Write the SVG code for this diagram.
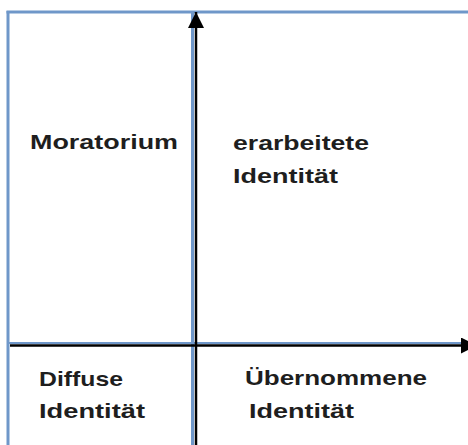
<svg xmlns="http://www.w3.org/2000/svg" width="468" height="445" viewBox="0 0 468 445">
<style>
.frame{stroke:#6f97c9;stroke-width:3;fill:none}
.axis{stroke:#000;stroke-width:2.5;fill:none}
.lbl{font-family:"Liberation Sans",Arial,sans-serif;font-weight:bold;font-size:21px;fill:#1e1e1e}
</style>
<defs>
<marker id="ah" markerUnits="userSpaceOnUse" markerWidth="16" markerHeight="16" refX="16" refY="8" orient="auto">
<path d="M0,0 L16,8 L0,16 z" fill="#000"/>
</marker>
</defs>
<rect width="468" height="445" fill="#fff"/>
<g id="frame">
<line class="frame" x1="6.5" y1="12" x2="468" y2="12"/>
<line class="frame" x1="8" y1="11" x2="8" y2="445"/>
<line class="frame" x1="192.5" y1="12" x2="192.5" y2="445"/>
<line class="frame" x1="8" y1="343" x2="468" y2="343" style="stroke-width:2"/>
</g>
<g id="connectors">
<line class="axis" x1="196" y1="445" x2="196" y2="12" marker-end="url(#ah)"/>
<line class="axis" x1="10" y1="345.5" x2="477" y2="345.5" marker-end="url(#ah)"/>
</g>
<g id="moratorium">
<text class="lbl" x="30" y="149" textLength="148" lengthAdjust="spacingAndGlyphs">Moratorium</text>
</g>
<g id="erarbeitete">
<text class="lbl" x="233" y="150" textLength="136" lengthAdjust="spacingAndGlyphs">erarbeitete</text>
<text class="lbl" x="233" y="183" textLength="105" lengthAdjust="spacingAndGlyphs">Identität</text>
</g>
<g id="diffuse">
<text class="lbl" x="39" y="386" textLength="84" lengthAdjust="spacingAndGlyphs">Diffuse</text>
<text class="lbl" x="39" y="418" textLength="106" lengthAdjust="spacingAndGlyphs">Identität</text>
</g>
<g id="uebernommene">
<text class="lbl" x="245" y="385" textLength="182" lengthAdjust="spacingAndGlyphs">Übernommene</text>
<text class="lbl" x="249" y="418" textLength="105" lengthAdjust="spacingAndGlyphs">Identität</text>
</g>
</svg>
